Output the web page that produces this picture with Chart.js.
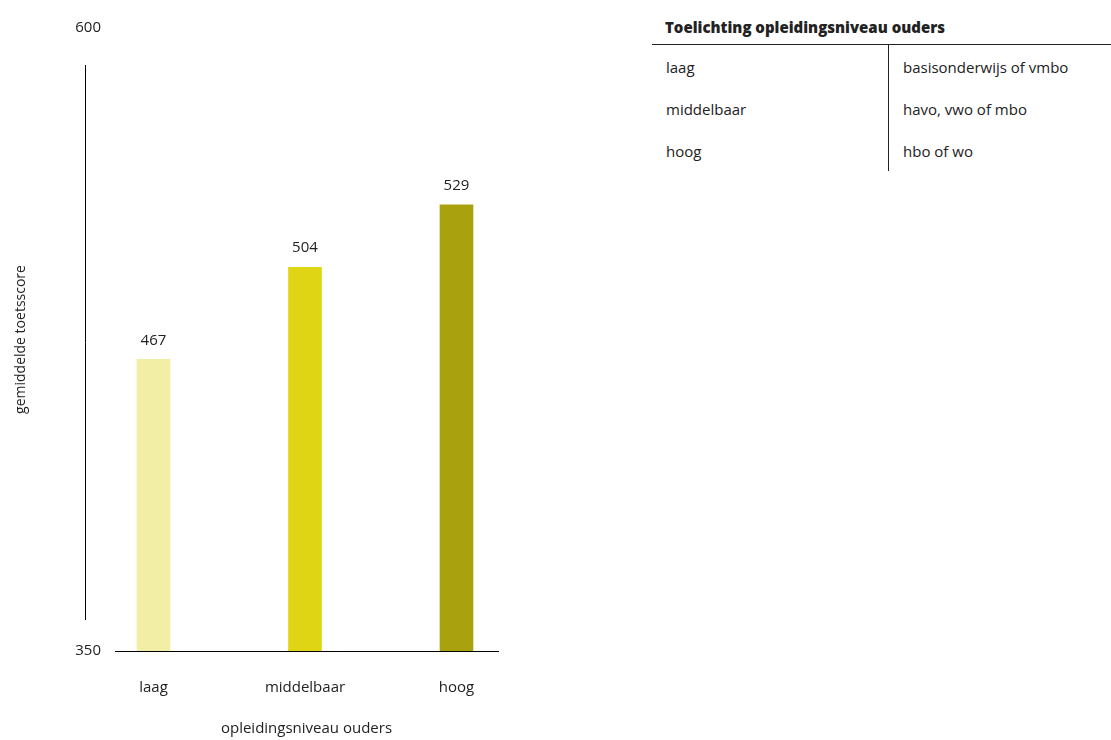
<!DOCTYPE html>
<html>
<head>
  <title>Gemiddelde toetsscore naar opleidingsniveau ouders</title>
  <script src="https://cdn.jsdelivr.net/npm/chart.js"></script>
  <style>
    body { margin: 0; background: #fff; font-family: "Open Sans", sans-serif; color: #222; }
    #wrap { position: absolute; left: 0; top: 0; width: 540px; height: 740px; }
    #legend { position: absolute; left: 652px; top: 14px; width: 459px; font-size: 15px; }
    #legend h3 { margin: 0 0 0 13px; font-size: 15px; font-weight: 800; height: 25px; padding-top: 5px; line-height: 16px; }
    #legend table { border-collapse: collapse; width: 100%; border-top: 1px solid #222; }
    #legend td { height: 40px; padding: 2px 0 0 0; vertical-align: middle; line-height: 18px; }
    #legend td.k { padding-left: 14px; width: 222px; border-right: 1px solid #222; }
    #legend td.v { padding-left: 14px; }
  </style>
</head>
<body>
  <div id="wrap"><canvas id="myChart"></canvas></div>
  <div id="legend">
    <h3>Toelichting opleidingsniveau ouders</h3>
    <table id="legendTable"></table>
  </div>
  <script>
    var categories = ['laag', 'middelbaar', 'hoog'];
    var explanations = ['basisonderwijs of vmbo', 'havo, vwo of mbo', 'hbo of wo'];
    var scores = [467, 504, 529];
    var barColors = ['#f3eea6', '#dfd514', '#aaa10f'];
    var yTicks = [350, 600];

    // legend table on the right
    var tbl = document.getElementById('legendTable');
    categories.forEach(function(c, i) {
      var tr = document.createElement('tr');
      tr.innerHTML = '<td class="k">' + c + '</td><td class="v">' + explanations[i] + '</td>';
      tbl.appendChild(tr);
    });

    // value labels above bars + the floating y axis line
    var extras = {
      id: 'extras',
      afterDatasetsDraw: function(chart) {
        var ctx = chart.ctx;
        var meta = chart.getDatasetMeta(0);
        ctx.save();
        ctx.fillStyle = '#222';
        ctx.font = '15px "Open Sans"';
        ctx.textAlign = 'center';
        ctx.textBaseline = 'middle';
        meta.data.forEach(function(bar, i) {
          ctx.fillText(scores[i], bar.x, bar.y - 19);
        });
        var area = chart.chartArea;
        ctx.strokeStyle = '#000';
        ctx.lineWidth = 1;
        ctx.beginPath();
        ctx.moveTo(area.left - 30 + 0.5, area.top + 37);
        ctx.lineTo(area.left - 30 + 0.5, area.bottom - 31);
        ctx.stroke();
        ctx.restore();
      }
    };

    var ctx = document.getElementById('myChart').getContext('2d');
    var myChart = new Chart(ctx, {
      type: 'bar',
      data: {
        datasets: [{
          data: scores.map(function(s, i) { return { x: i, y: s }; }),
          backgroundColor: barColors,
          barThickness: 33
        }]
      },
      options: {
        responsive: true,
        maintainAspectRatio: false,
        animation: false,
        layout: { padding: { top: 28, right: 42, left: 0, bottom: 2 } },
        plugins: { legend: { display: false }, tooltip: { enabled: false } },
        scales: {
          x: {
            type: 'linear',
            offset: false,
            min: -0.254,
            max: 2.274,
            grid: { display: false, drawTicks: false, offset: false },
            border: { display: true, color: '#000', width: 1 },
            afterBuildTicks: function(axis) {
              axis.ticks = categories.map(function(c, i) { return { value: i }; });
            },
            ticks: {
              color: '#222',
              font: { family: 'Open Sans', size: 15 },
              padding: 28,
              callback: function(v) { return categories[v]; }
            },
            title: {
              display: true,
              text: 'opleidingsniveau ouders',
              color: '#222',
              font: { family: 'Open Sans', size: 15 },
              padding: { top: -5, bottom: 0 }
            }
          },
          y: {
            min: 350,
            max: 600,
            grid: { display: false, drawTicks: false },
            border: { display: false },
            afterBuildTicks: function(axis) {
              axis.ticks = yTicks.map(function(v) { return { value: v }; });
            },
            afterFit: function(axis) { axis.width = 115; },
            ticks: {
              color: '#222',
              font: { family: 'Open Sans', size: 15 },
              padding: 14
            },
            title: {
              display: true,
              text: 'gemiddelde toetsscore',
              color: '#222',
              font: { family: 'Open Sans', size: 14 },
              padding: { top: 13, bottom: 0 }
            }
          }
        }
      },
      plugins: [extras]
    });
  </script>
</body>
</html>
